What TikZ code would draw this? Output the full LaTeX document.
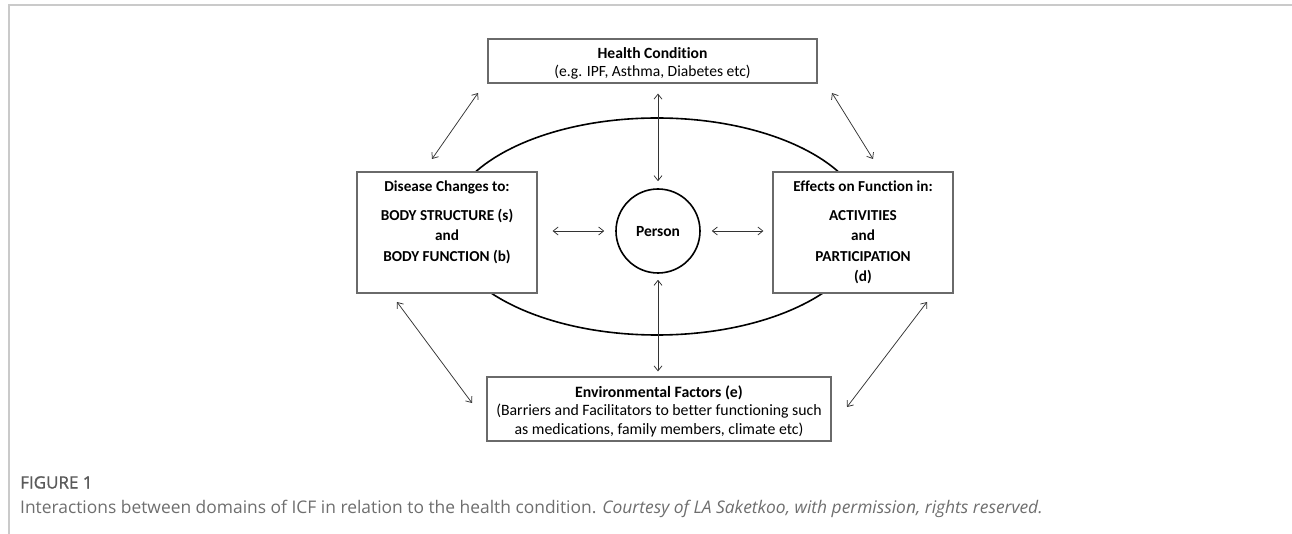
\documentclass[tikz,border=0pt]{standalone}
\usepackage{fontspec}
\setmainfont[Ligatures=NoCommon]{Carlito}
\newfontfamily\capfont{Open Sans}
\newfontfamily\caplabfont[FakeBold=1.2]{Open Sans}
\usetikzlibrary{arrows.meta,shapes.geometric}
\definecolor{boxgray}{HTML}{6A6A6A}
\definecolor{linegray}{HTML}{333333}
\definecolor{framegray}{HTML}{CACACA}
\definecolor{capgray}{HTML}{6E6E6E}
\definecolor{labgray}{HTML}{5A5A5A}
\begin{document}
\begin{tikzpicture}[x=1pt,y=-1pt,
  box/.style={draw=boxgray, line width=1.2pt, fill=white, inner sep=0pt},
  ln/.style={anchor=base, inner sep=0pt},
  hfont/.style={font=\fontsize{15.6}{18}\selectfont},
  bfont/.style={font=\fontsize{15.2}{18}\selectfont\bfseries},
  efont/.style={font=\fontsize{15.8}{18}\selectfont},
  arr/.style={draw=linegray, line width=0.75pt, {Straight Barb[length=5pt,width=8pt]}-{Straight Barb[length=5pt,width=8pt]}},
  captxt/.style={anchor=base west, inner sep=0pt, text=capgray, font=\capfont\fontsize{17.4}{20}\selectfont}]
\useasboundingbox (0,0) rectangle (1292,534);
\draw[framegray, line width=2pt] (9,534) -- (9,5) -- (1292,5);

% ellipse behind
\node[ellipse, draw=black, line width=1.6pt, minimum width=420pt, minimum height=217pt, inner sep=0pt] (ring) at (657,226.5) {};

% health condition
\node[box, minimum width=329pt, minimum height=44pt] (hc) at (652.5,61) {};
\node[ln, font=\fontsize{15.6}{18}\selectfont\bfseries] (hc1) at (652.5,58.5) {Health Condition};
\node[ln, hfont] (hc2) at (652.5,77) {(e.g. IPF, Asthma, Diabetes etc)};

% body structure / function
\node[box, minimum width=180pt, minimum height=121pt] (bs) at (447,232.5) {};
\node[ln, bfont] (bs1) at (447,191.5) {Disease Changes to:};
\node[ln, bfont] (bs2) at (447,220.5) {BODY STRUCTURE (s)};
\node[ln, bfont] (bs3) at (447,241) {and};
\node[ln, bfont] (bs4) at (447,261.5) {BODY FUNCTION (b)};

% activities / participation
\node[box, minimum width=180pt, minimum height=121pt] (af) at (863,232.5) {};
\node[ln, bfont] (af1) at (863,191.5) {Effects on Function in:};
\node[ln, bfont] (af2) at (863,220.5) {ACTIVITIES};
\node[ln, bfont] (af3) at (863,241) {and};
\node[ln, bfont] (af4) at (863,261.5) {PARTICIPATION};
\node[ln, bfont] (af5) at (863,282) {(d)};

% environmental factors
\node[box, minimum width=344pt, minimum height=64pt] (env) at (659,409) {};
\node[ln, font=\fontsize{15.8}{18}\selectfont\bfseries] (env1) at (659,397.5) {Environmental Factors (e)};
\node[ln, efont] (env2) at (659,415.5) {(Barriers and Facilitators to better functioning such};
\node[ln, efont] (env3) at (659,434) {as medications, family members, climate etc)};

% person
\node[circle, draw=black, line width=1.6pt, fill=white, minimum size=84pt, inner sep=0pt] (p) at (658,231) {};
\node[ln, font=\fontsize{15.5}{18}\selectfont\bfseries] (pt) at (658,237) {Person};

% connectors
\draw[arr, shorten <=10pt, shorten >=7pt] (p.north |- hc.south) -- (p.north);
\draw[arr, shorten <=6pt, shorten >=5pt] (p.south) -- (p.south |- env.north);
\draw[arr, shorten <=15pt, shorten >=11pt] (bs.east |- p.west) -- (p.west);
\draw[arr, shorten <=11pt, shorten >=9pt] (p.east) -- (af.west |- p.east);

\coordinate (ula) at (478,93);
\coordinate (ulb) at (432,159);
\coordinate (ura) at (832,93);
\coordinate (urb) at (873,159);
\coordinate (lla) at (397,302);
\coordinate (llb) at (472,403);
\coordinate (lra) at (927,302);
\coordinate (lrb) at (847,407);
\draw[arr] (ula) -- (ulb);
\draw[arr] (ura) -- (urb);
\draw[arr] (lla) -- (llb);
\draw[arr] (lra) -- (lrb);

% caption
\node[captxt, text=labgray, font=\caplabfont\fontsize{17}{20}\selectfont] (fig) at (20,488.5) {FIGURE 1};
\node[captxt] (cap) at (20,513) {Interactions between domains of ICF in relation to the health condition. \textit{Courtesy of LA Saketkoo, with permission, rights reserved.}};
\end{tikzpicture}
\end{document}
